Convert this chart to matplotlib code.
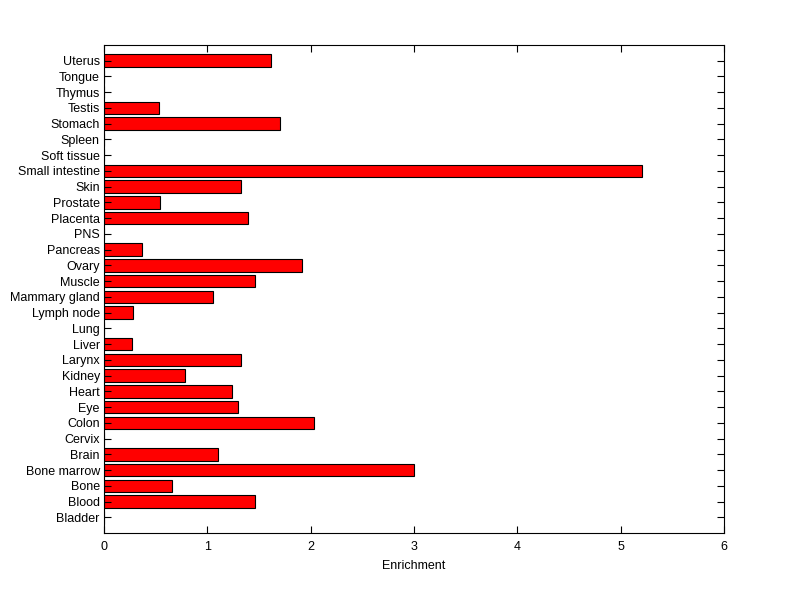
import numpy as np
import matplotlib
matplotlib.use("Agg")
import matplotlib.pyplot as plt

# Data
# ----------------------------------------------------------------------
TISSUES = ["Bladder", "Blood", "Bone", "Bone marrow", "Brain", "Cervix",
           "Colon", "Eye", "Heart", "Kidney", "Larynx", "Liver", "Lung",
           "Lymph node", "Mammary gland", "Muscle", "Ovary", "Pancreas",
           "PNS", "Placenta", "Prostate", "Skin", "Small intestine",
           "Soft tissue", "Spleen", "Stomach", "Testis", "Thymus",
           "Tongue", "Uterus"]
ENRICHMENT = [0, 1.46, 0.66, 3.00, 1.10, 0,
              2.03, 1.30, 1.24, 0.78, 1.33, 0.27, 0,
              0.28, 1.05, 1.46, 1.92, 0.37,
              0, 1.39, 0.54, 1.33, 5.21,
              0, 0, 1.70, 0.53, 0,
              0, 1.62]
XTICKS = [0, 1, 2, 3, 4, 5, 6]
# ----------------------------------------------------------------------

plt.rcParams['font.family'] = ['Liberation Sans', 'DejaVu Sans']
plt.rcParams['font.size'] = 9

fig = plt.figure(figsize=(8.0, 5.99), dpi=100)
ax = fig.add_axes([0.13, 0.11, 0.775, 0.815])

pos = np.arange(1, len(TISSUES) + 1)
ax.barh(pos, ENRICHMENT, height=0.8, color='red', edgecolor='black',
        linewidth=0.8)

ax.set_xlim(0, 6)
ax.set_ylim(0, len(TISSUES) + 1)
ax.set_xticks(XTICKS)
ax.set_yticks(pos)
ax.set_yticklabels(TISSUES)
ax.set_xlabel("Enrichment", fontsize=9, labelpad=5)
ax.tick_params(direction='in', top=True, right=True, length=5, width=0.8,
               pad=3)
ax.tick_params(axis='x', pad=6)
for s in ax.spines.values():
    s.set_linewidth(0.8)

fig.savefig("out.png", dpi=100)
